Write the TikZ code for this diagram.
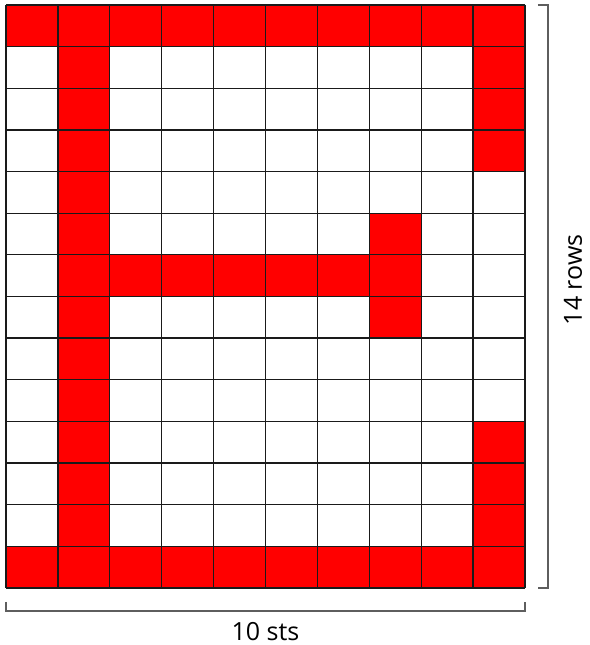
\documentclass[tikz,border=0pt]{standalone}
\usepackage{fontspec}
\setmainfont{Open Sans}
\usetikzlibrary{positioning,calc}
\definecolor{stitch}{HTML}{FF0000}
\definecolor{gridink}{HTML}{1A1A1A}
\definecolor{measure}{HTML}{5E5E5E}

\begin{document}
\begin{tikzpicture}[x=51.9pt,y=-41.64pt,
 cell/.style={fill=stitch},
 gridline/.style={draw=gridink,line width=1.3pt},
 bracket/.style={draw=measure,line width=1.6pt},
 lbl/.style={font=\fontsize{25}{28}\selectfont,text=black,inner sep=0pt}]
\useasboundingbox (-6pt,5pt) rectangle (583pt,-640pt);
\foreach \c in {0,...,9}{\fill[cell] (\c,0) rectangle ++(1,1);\fill[cell] (\c,13) rectangle ++(1,1);}
\foreach \r in {1,...,12}{\fill[cell] (1,\r) rectangle ++(1,1);}
\foreach \r in {1,2,3,10,11,12}{\fill[cell] (9,\r) rectangle ++(1,1);}
\foreach \r in {5,6,7}{\fill[cell] (7,\r) rectangle ++(1,1);}
\foreach \c in {2,...,6}{\fill[cell] (\c,6) rectangle ++(1,1);}
\foreach \c in {0,...,10}{\draw[gridline] (\c,0) -- (\c,14);}
\foreach \r in {0,...,14}{\draw[gridline] (0,\r) -- (10,\r);}
\coordinate (rtop) at (10.44,0);
\coordinate (rbot) at (10.44,14);
\coordinate (bleft) at (0,14.55);
\coordinate (bright) at (10,14.55);
\draw[bracket] ([xshift=-10pt]rtop) -- (rtop) -- (rbot) -- ([xshift=-10pt]rbot);
\draw[bracket] ([yshift=9pt]bleft) -- (bleft) -- (bright) -- ([yshift=9pt]bright);
\node[lbl,rotate=90] (rows) at (10.925,6.6) {14 rows};
\node[lbl] (sts) at (5,15.04) {10 sts};
\end{tikzpicture}
\end{document}
